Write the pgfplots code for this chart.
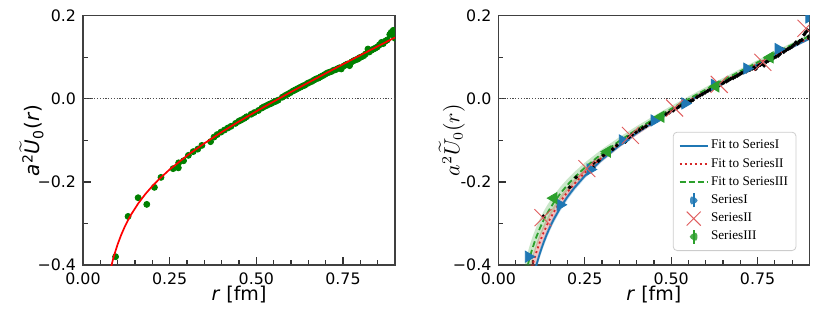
\documentclass[border=0pt]{standalone}
\usepackage{fontspec}
\setmainfont{DejaVu Sans}
\newfontfamily\tnr{Liberation Serif}
\usepackage{pgfplots}
\usepackage{pgfplotstable}
\pgfplotsset{compat=1.18}
\usepgfplotslibrary{fillbetween}

\definecolor{tblue}{HTML}{1F77B4}
\definecolor{tred}{HTML}{D62728}
\definecolor{tgreen}{HTML}{2CA02C}
\definecolor{dgreen}{HTML}{008000}

% lattice data (left panel green, right panel black)
\pgfplotstableread{
r y
0.094 -0.380
0.130 -0.283
0.159 -0.238
0.184 -0.254
0.206 -0.213
0.225 -0.189
0.260 -0.168
0.275 -0.166
0.276 -0.154
0.290 -0.149
0.304 -0.136
0.318 -0.127
0.331 -0.121
0.343 -0.112
0.368 -0.103
0.378 -0.092
0.387 -0.086
0.398 -0.080
0.408 -0.075
0.418 -0.070
0.427 -0.066
0.440 -0.059
0.449 -0.054
0.456 -0.051
0.465 -0.047
0.472 -0.043
0.485 -0.037
0.494 -0.033
0.506 -0.028
0.516 -0.022
0.522 -0.019
0.530 -0.016
0.537 -0.013
0.543 -0.011
0.550 -0.008
0.556 -0.006
0.563 -0.003
0.575 0.004
0.583 0.008
0.590 0.011
0.598 0.015
0.606 0.019
0.613 0.022
0.620 0.025
0.627 0.028
0.634 0.031
0.640 0.033
0.647 0.037
0.652 0.039
0.660 0.042
0.666 0.045
0.672 0.048
0.679 0.050
0.685 0.053
0.692 0.056
0.698 0.059
0.704 0.062
0.710 0.064
0.717 0.066
0.723 0.069
0.728 0.070
0.735 0.073
0.740 0.075
0.745 0.072
0.752 0.079
0.758 0.082
0.763 0.084
0.769 0.080
0.775 0.089
0.781 0.092
0.787 0.094
0.793 0.096
0.797 0.099
0.803 0.101
0.810 0.104
0.815 0.108
0.822 0.120
0.826 0.113
0.832 0.117
0.838 0.120
0.843 0.122
0.849 0.125
0.855 0.130
0.861 0.136
0.866 0.133
0.872 0.139
0.878 0.142
0.885 0.155
0.889 0.160
0.895 0.165
0.898 0.150
0.900 0.146
}\latdata

% left fit curve
\pgfplotstableread{
r y
0.080 -0.408
0.085 -0.3913
0.090 -0.3762
0.100 -0.350
0.110 -0.3278
0.120 -0.3087
0.130 -0.2918
0.140 -0.2769
0.160 -0.251
0.180 -0.2291
0.200 -0.210
0.220 -0.1929
0.250 -0.170
0.300 -0.1367
0.350 -0.1071
0.400 -0.080
0.450 -0.0544
0.500 -0.030
0.550 -0.0064
0.600 0.0167
0.650 0.0392
0.700 0.0614
0.750 0.0833
0.800 0.105
0.850 0.1265
0.900 0.1478
}\leftfit

% right fits: r y e (band half-width)
\pgfplotstableread{
r y e
0.070 -0.5805 0.0163
0.080 -0.5197 0.0145
0.090 -0.4717 0.0131
0.100 -0.4324 0.0120
0.105 -0.4154 0.0115
0.110 -0.3996 0.0111
0.120 -0.3718 0.0103
0.130 -0.3476 0.0097
0.140 -0.3264 0.0091
0.150 -0.3074 0.0087
0.160 -0.2904 0.0083
0.180 -0.2609 0.0076
0.200 -0.2358 0.0070
0.220 -0.2140 0.0065
0.250 -0.1855 0.0060
0.300 -0.1459 0.0053
0.350 -0.1123 0.0049
0.400 -0.0826 0.0045
0.450 -0.0554 0.0042
0.500 -0.0300 0.0040
0.550 -0.0059 0.0038
0.600 0.0173 0.0037
0.650 0.0397 0.0035
0.700 0.0615 0.0034
0.750 0.0828 0.0033
0.800 0.1038 0.0033
0.850 0.1245 0.0032
0.900 0.1448 0.0031
}\fitI

\pgfplotstableread{
r y e
0.070 -0.5241 0.0306
0.075 -0.4965 0.0287
0.080 -0.4721 0.0270
0.085 -0.4503 0.0255
0.090 -0.4308 0.0242
0.095 -0.4131 0.0231
0.100 -0.3970 0.0220
0.110 -0.3687 0.0202
0.120 -0.3444 0.0187
0.130 -0.3233 0.0174
0.140 -0.3047 0.0163
0.150 -0.2880 0.0153
0.160 -0.2730 0.0145
0.180 -0.2466 0.0131
0.200 -0.2240 0.0120
0.220 -0.2041 0.0111
0.250 -0.1780 0.0100
0.300 -0.1410 0.0087
0.350 -0.1091 0.0077
0.400 -0.0805 0.0070
0.450 -0.0540 0.0064
0.500 -0.0290 0.0060
0.550 -0.0051 0.0056
0.600 0.0180 0.0053
0.650 0.0405 0.0051
0.700 0.0624 0.0049
0.750 0.0840 0.0047
0.800 0.1052 0.0045
0.850 0.1262 0.0044
0.900 0.1470 0.0042
}\fitII

\pgfplotstableread{
r y e
0.070 -0.4620 0.0377
0.075 -0.4391 0.0353
0.080 -0.4188 0.0333
0.085 -0.4007 0.0314
0.090 -0.3843 0.0298
0.095 -0.3695 0.0283
0.100 -0.3560 0.0270
0.110 -0.3321 0.0247
0.120 -0.3115 0.0228
0.130 -0.2935 0.0212
0.140 -0.2775 0.0199
0.150 -0.2632 0.0187
0.160 -0.2501 0.0176
0.180 -0.2270 0.0159
0.200 -0.2070 0.0145
0.220 -0.1892 0.0134
0.250 -0.1655 0.0120
0.300 -0.1313 0.0103
0.350 -0.1014 0.0091
0.400 -0.0740 0.0083
0.450 -0.0484 0.0076
0.500 -0.0240 0.0070
0.550 -0.0005 0.0065
0.600 0.0223 0.0062
0.650 0.0447 0.0058
0.700 0.0666 0.0056
0.750 0.0882 0.0053
0.800 0.1095 0.0051
0.850 0.1306 0.0049
0.900 0.1516 0.0048
}\fitIII

\pgfplotsset{
  common/.style={
    scale only axis, width=156pt, height=124.6pt,
    xmin=0, xmax=0.9, ymin=-0.4, ymax=0.2,
    clip marker paths=true,
    xtick={0,0.25,0.5,0.75}, xticklabels={0.00,0.25,0.50,0.75},
    ytick={-0.4,-0.2,0,0.2},
    minor xtick={0.05,0.10,0.15,0.20,0.30,0.35,0.40,0.45,0.55,0.60,0.65,0.70,0.80,0.85},
    minor ytick={-0.3,-0.1,0.1},
    xtick pos=bottom, ytick pos=left, tick align=inside,
    major tick length=4pt, minor tick length=2.5pt,
    every tick/.style={black!80, line width=0.6pt},
    axis line style={black!75, line width=0.6pt},
    ticklabel style={font=\fontsize{7.9}{9}\selectfont},
    xticklabel style={inner ysep=0.5pt, yshift=-3pt},
    yticklabel style={inner ysep=0pt},
    xlabel={\textit{r} [fm]},
    xlabel style={font=\fontsize{9.5}{11}\selectfont, inner sep=0pt, at={(axis description cs:0.5,0)}, anchor=center, yshift=-14.8pt},
  },
}

\begin{document}
\begin{tikzpicture}

% ---------------- left panel ----------------
\begin{axis}[common, at={(41.5pt,23.5pt)}, anchor=south west,
  yticklabels={−0.4,−0.2,0.0,0.2},
  ylabel={\textit{a}\textsuperscript{2}$\widetilde{\mbox{\textit{U}}}$\textsubscript{0}(\textit{r})},
  ylabel style={font=\fontsize{10}{12}\selectfont, at={(axis description cs:-0.165,0.5)}, anchor=center},
]
\addplot[black!70, line width=0.4pt, dash pattern=on 0.6pt off 0.8pt, forget plot] coordinates {(0,0) (0.9,0)};
\addplot[only marks, mark=*, mark size=1.5pt, color=dgreen, forget plot] table[x=r,y=y] {\latdata};
\addplot[red, line width=0.85pt, forget plot] table[x=r,y=y] {\leftfit};
\end{axis}

% ---------------- right panel ----------------
\begin{axis}[common, at={(249.2pt,23.5pt)}, anchor=south west, width=155.5pt,
  yticklabels={−0.4,-0.2,0.0,0.2},
  ylabel={$a^2\widetilde{U}_0(r)$},
  ylabel style={font=\fontsize{10.5}{12}\selectfont, at={(axis description cs:-0.15,0.5)}, anchor=center},
  legend style={at={(axis description cs:1,0)}, anchor=south east, xshift=-6.5pt, yshift=7pt,
    draw=black!20, rounded corners=2pt, fill=white, fill opacity=0.85, text opacity=1,
    font=\tnr\fontsize{6.6}{8}\selectfont, row sep=0.8pt, inner sep=2.8pt,
    nodes={inner sep=1.2pt}},
  legend cell align=left,
]
\addplot[black!70, line width=0.4pt, dash pattern=on 0.6pt off 0.8pt, forget plot] coordinates {(0,0) (0.9,0)};

% band and fit I
\addplot[name path=bu, draw=none, forget plot] table[x=r, y expr=\thisrow{y}+\thisrow{e}] {\fitI};
\addplot[name path=bl, draw=none, forget plot] table[x=r, y expr=\thisrow{y}-\thisrow{e}] {\fitI};
\addplot[fill=tblue, fill opacity=0.3, draw=none, forget plot] fill between[of=bu and bl];
\addplot[tblue, line width=0.9pt, forget plot] table[x=r,y=y] {\fitI};

% band and fit II
\addplot[name path=ru, draw=none, forget plot] table[x=r, y expr=\thisrow{y}+\thisrow{e}] {\fitII};
\addplot[name path=rl, draw=none, forget plot] table[x=r, y expr=\thisrow{y}-\thisrow{e}] {\fitII};
\addplot[fill=tred, fill opacity=0.28, draw=none, forget plot] fill between[of=ru and rl];
\addplot[tred, line width=0.9pt, dash pattern=on 1pt off 1.5pt, forget plot] table[x=r,y=y] {\fitII};

% band and fit III
\addplot[name path=gu, draw=none, forget plot] table[x=r, y expr=\thisrow{y}+\thisrow{e}] {\fitIII};
\addplot[name path=gl, draw=none, forget plot] table[x=r, y expr=\thisrow{y}-\thisrow{e}] {\fitIII};
\addplot[fill=tgreen, fill opacity=0.25, draw=none, forget plot] fill between[of=gu and gl];
\addplot[tgreen, line width=0.9pt, dash pattern=on 3pt off 1.5pt, forget plot] table[x=r,y=y] {\fitIII};

% lattice points (black)
\addplot[only marks, mark=*, mark size=0.8pt, color=black, forget plot] table[x=r,y=y] {\latdata};

% Series I
\addplot[forget plot, only marks, color=tblue, mark=triangle*, mark size=3.2pt, mark options={rotate=-90, fill=tblue},
  error bars/.cd, y dir=both, y explicit, error bar style={line width=0.8pt}, error mark=none]
  coordinates {
  (0.087,-0.380) +- (0,0.006)
  (0.179,-0.255) +- (0,0.005)
  (0.266,-0.170) +- (0,0.004)
  (0.359,-0.100) +- (0,0.003)
  (0.451,-0.052) +- (0,0.003)
  (0.540,-0.011) +- (0,0.003)
  (0.625,0.034) +- (0,0.003)
  (0.719,0.073) +- (0,0.003)
  (0.810,0.120) +- (0,0.004)
  (0.899,0.196) +- (0,0.006)
  };
% Series II
\addplot[forget plot, only marks, color=tred!75, mark=x, mark size=6pt, mark options={line width=0.45pt}]
  coordinates {
  (0.129,-0.286) (0.256,-0.168) (0.382,-0.088) (0.510,-0.022)
  (0.639,0.035) (0.765,0.088) (0.890,0.170)
  };
% Series III
\addplot[forget plot, only marks, color=tgreen, mark=triangle*, mark size=3.2pt, mark options={rotate=90, fill=tgreen},
  error bars/.cd, y dir=both, y explicit, error bar style={line width=0.8pt}, error mark=none]
  coordinates {
  (0.160,-0.239) +- (0,0.005)
  (0.315,-0.127) +- (0,0.004)
  (0.470,-0.043) +- (0,0.003)
  (0.629,0.030) +- (0,0.003)
  (0.786,0.100) +- (0,0.004)
  };

% legend
\addlegendimage{legend image code/.code={\path[draw=none,fill=none] (0pt,-2.5pt) rectangle (14pt,2.5pt); \draw[draw=tblue, fill=none, line width=0.9pt] (0pt,0pt) -- (14pt,0pt);}}
\addlegendentry{Fit to SeriesI}
\addlegendimage{legend image code/.code={\path[draw=none,fill=none] (0pt,-2.5pt) rectangle (14pt,2.5pt); \draw[draw=tred, fill=none, line width=0.9pt, dash pattern=on 1pt off 1.5pt] (0pt,0pt) -- (14pt,0pt);}}
\addlegendentry{Fit to SeriesII}
\addlegendimage{legend image code/.code={\path[draw=none,fill=none] (0pt,-2.5pt) rectangle (14pt,2.5pt); \draw[draw=tgreen, fill=none, line width=0.9pt, dash pattern=on 3pt off 1.5pt] (0pt,0pt) -- (14pt,0pt);}}
\addlegendentry{Fit to SeriesIII}
\addlegendimage{legend image code/.code={\path[draw=none,fill=none] (0pt,-2.5pt) rectangle (14pt,2.5pt); \draw[draw=tblue, fill=none, line width=0.8pt] (7pt,-3.5pt) -- (7pt,3.5pt);
  \path[draw=none, fill=tblue] (10pt,0pt) -- (5.2pt,2.8pt) -- (5.2pt,-2.8pt) -- cycle;}}
\addlegendentry{SeriesI}
\addlegendimage{legend image code/.code={\path[draw=none,fill=none] (0pt,-2.5pt) rectangle (14pt,2.5pt); \draw[draw=tred!75, fill=none, line width=0.45pt] (3.5pt,-3.5pt) -- (10.5pt,3.5pt) (3.5pt,3.5pt) -- (10.5pt,-3.5pt);}}
\addlegendentry{SeriesII}
\addlegendimage{legend image code/.code={\path[draw=none,fill=none] (0pt,-2.5pt) rectangle (14pt,2.5pt); \draw[draw=tgreen, fill=none, line width=0.8pt] (7pt,-3.5pt) -- (7pt,3.5pt);
  \path[draw=none, fill=tgreen] (4pt,0pt) -- (8.8pt,2.8pt) -- (8.8pt,-2.8pt) -- cycle;}}
\addlegendentry{SeriesIII}
\end{axis}

\path (0,0) rectangle (415pt,156pt);
\end{tikzpicture}
\end{document}
